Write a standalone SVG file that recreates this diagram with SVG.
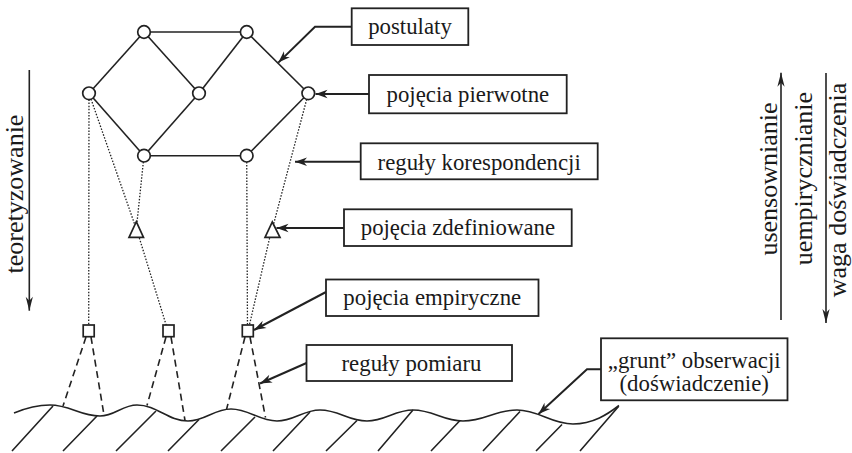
<svg xmlns="http://www.w3.org/2000/svg" width="852" height="453" viewBox="0 0 852 453">
<style>
  .edge{stroke:#222;stroke-width:1.6;fill:none}
  .dot{stroke:#222;stroke-width:1.3;fill:none;stroke-dasharray:1.5 1.6}
  .dash{stroke:#222;stroke-width:1.6;fill:none;stroke-dasharray:7 4.5}
  .arr{stroke:#222;stroke-width:2;fill:none;marker-end:url(#ah)}
  .varr{stroke:#222;stroke-width:1.6;fill:none;marker-end:url(#vh)}
  .node{stroke:#222;stroke-width:1.7;fill:#fff}
  .box{stroke:#222;stroke-width:1.8;fill:#fff}
  .lbl{font-family:"Liberation Serif","Times New Roman",serif;font-size:22.8px;fill:#1a1a1a;text-anchor:middle}
  .vl{font-family:"Liberation Serif","Times New Roman",serif;font-size:26px;fill:#1a1a1a;text-anchor:middle}
  .gnd{stroke:#222;stroke-width:1.6;fill:none}
</style>
<defs>
  <marker id="ah" markerUnits="userSpaceOnUse" viewBox="-13 -5 14 10" markerWidth="14" markerHeight="10" refX="0" refY="0" orient="auto">
    <path d="M0,0 L-12,-4.2 L-8.5,0 L-12,4.2 Z" fill="#222"/>
  </marker>
  <marker id="vh" markerUnits="userSpaceOnUse" viewBox="-15 -5 16 10" markerWidth="16" markerHeight="10" refX="0" refY="0" orient="auto">
    <path d="M0,0 L-14,-3.6 L-10,0 L-14,3.6 Z" fill="#222"/>
  </marker>
</defs>

<g id="connectors">
  <path class="edge" d="M144,32 H246.7"/>
  <path class="edge" d="M144,32 L89,93.3"/>
  <path class="edge" d="M144,32 L199,93.3"/>
  <path class="edge" d="M246.7,32 L199,93.3"/>
  <path class="edge" d="M246.7,32 L308.3,93.3"/>
  <path class="edge" d="M89,93.3 L144,155.7"/>
  <path class="edge" d="M199,93.3 L144,155.7"/>
  <path class="edge" d="M308.3,93.3 L246.7,155.7"/>
  <path class="edge" d="M144,155.7 H246.7"/>
  <path class="dot" d="M89,93.3 L88.7,331"/>
  <path class="dot" d="M89,93.3 L136.3,229"/>
  <path class="dot" d="M144,155.7 L136.3,229"/>
  <path class="dot" d="M137.5,232 L168,331"/>
  <path class="dot" d="M246.7,155.7 L247.5,331"/>
  <path class="dot" d="M308.3,93.3 L272.3,229"/>
  <path class="dot" d="M271,232 L248,331"/>
  <path class="dash" d="M86,337 L63,406"/>
  <path class="dash" d="M91,337 L104,415"/>
  <path class="dash" d="M166,337 L147,405.5"/>
  <path class="dash" d="M171,337 L185,420.5"/>
  <path class="dash" d="M245,337 L226.5,409.5"/>
  <path class="dash" d="M250,337 L265.5,417.5"/>
  <path class="arr" d="M351.7,26.7 H315 L278.3,62.6"/>
  <path class="arr" d="M369,94 H315.5"/>
  <path class="arr" d="M360.7,161.7 H295"/>
  <path class="arr" d="M344,228 H276.5"/>
  <path class="arr" d="M326,292 L254,330"/>
  <path class="arr" d="M306.5,363 L260,383.5"/>
  <path class="arr" d="M601,369.3 H587 L538.5,414"/>
  <path class="varr" d="M29.3,70 V310.7"/>
  <path class="varr" d="M781,320 V72.7"/>
  <path class="varr" d="M826,73 V323"/>
</g>

<g id="ground">
  <path class="gnd" d="M14,413 C26,408 38,405 50,405 C70,405 80,416 100,416 C115,416 122,405 137,405 C157,405 168,421 188,421 C205,421 214,409 231,409 C249,409 259,421 277,421 C294,421 303,410 320,410 C339,410 348,421 367,421 C385,421 395,410 413,410 C433,410 443,421 463,421 C485,421 495,410 517,410 C539,410 551,424 573,424 C593,424 608,414 619,405.5"/>
  <path class="gnd" d="M53,406 L12,451 M97,416 L63,451 M156,411 L116,451 M199,419.5 L168,451 M255,417 L221,451 M310,412 L273,451 M357,420.5 L326,451 M413,410 L378,451 M460,420.5 L431,451 M520,411.5 L483,451 M562,424.5 L536,451 M618.5,406.5 L580,451"/>
</g>

<g id="n-tl"><circle class="node" cx="144" cy="32" r="6.3"/></g>
<g id="n-tr"><circle class="node" cx="246.7" cy="32" r="6.3"/></g>
<g id="n-l"><circle class="node" cx="89" cy="93.3" r="6.3"/></g>
<g id="n-m"><circle class="node" cx="199" cy="93.3" r="6.3"/></g>
<g id="n-r"><circle class="node" cx="308.3" cy="93.3" r="6.3"/></g>
<g id="n-bl"><circle class="node" cx="144" cy="155.7" r="6.3"/></g>
<g id="n-br"><circle class="node" cx="246.7" cy="155.7" r="6.3"/></g>

<g id="t-left"><polygon class="node" points="136.3,221.7 143.5,237.3 129,237.3"/></g>
<g id="t-right"><polygon class="node" points="272.3,222 280,237.3 265,237.3"/></g>

<g id="s-1"><rect class="node" x="83.2" y="325" width="11" height="11.7"/></g>
<g id="s-2"><rect class="node" x="163" y="325" width="11" height="11.7"/></g>
<g id="s-3"><rect class="node" x="242.3" y="325" width="11" height="11.7"/></g>

<g id="lbl-postulaty"><rect class="box" x="351.7" y="8.3" width="116.6" height="36.7"/><text class="lbl" x="410" y="34">postulaty</text></g>
<g id="lbl-pierwotne"><rect class="box" x="369" y="75" width="197.7" height="38.3"/><text class="lbl" x="467.9" y="102">pojęcia pierwotne</text></g>
<g id="lbl-korespondencji"><rect class="box" x="360.7" y="143.3" width="237" height="36"/><text class="lbl" x="479.2" y="169.5">reguły korespondencji</text></g>
<g id="lbl-zdefiniowane"><rect class="box" x="344" y="209.3" width="227.7" height="36.7"/><text class="lbl" x="457.9" y="235">pojęcia zdefiniowane</text></g>
<g id="lbl-empiryczne"><rect class="box" x="326" y="279.5" width="212.5" height="36.5"/><text class="lbl" x="432.3" y="305">pojęcia empiryczne</text></g>
<g id="lbl-pomiaru"><rect class="box" x="306.5" y="345" width="205.5" height="36"/><text class="lbl" x="411.5" y="370.5">reguły pomiaru</text></g>
<g id="lbl-grunt"><rect class="box" x="601" y="338.3" width="186.5" height="62"/><text class="lbl" x="694.2" y="367.5">„grunt” obserwacji</text><text class="lbl" x="694.2" y="391">(doświadczenie)</text></g>

<g id="vtexts">
  <text class="vl" x="23" y="194" transform="rotate(-90 23 194)">teoretyzowanie</text>
  <text class="vl" x="776.5" y="179" transform="rotate(-90 776.5 179)">usensownianie</text>
  <text class="vl" x="811.5" y="178.5" transform="rotate(-90 811.5 178.5)">uempirycznianie</text>
  <text class="vl" x="846" y="190" transform="rotate(-90 846 190)">waga doświadczenia</text>
</g>
</svg>
